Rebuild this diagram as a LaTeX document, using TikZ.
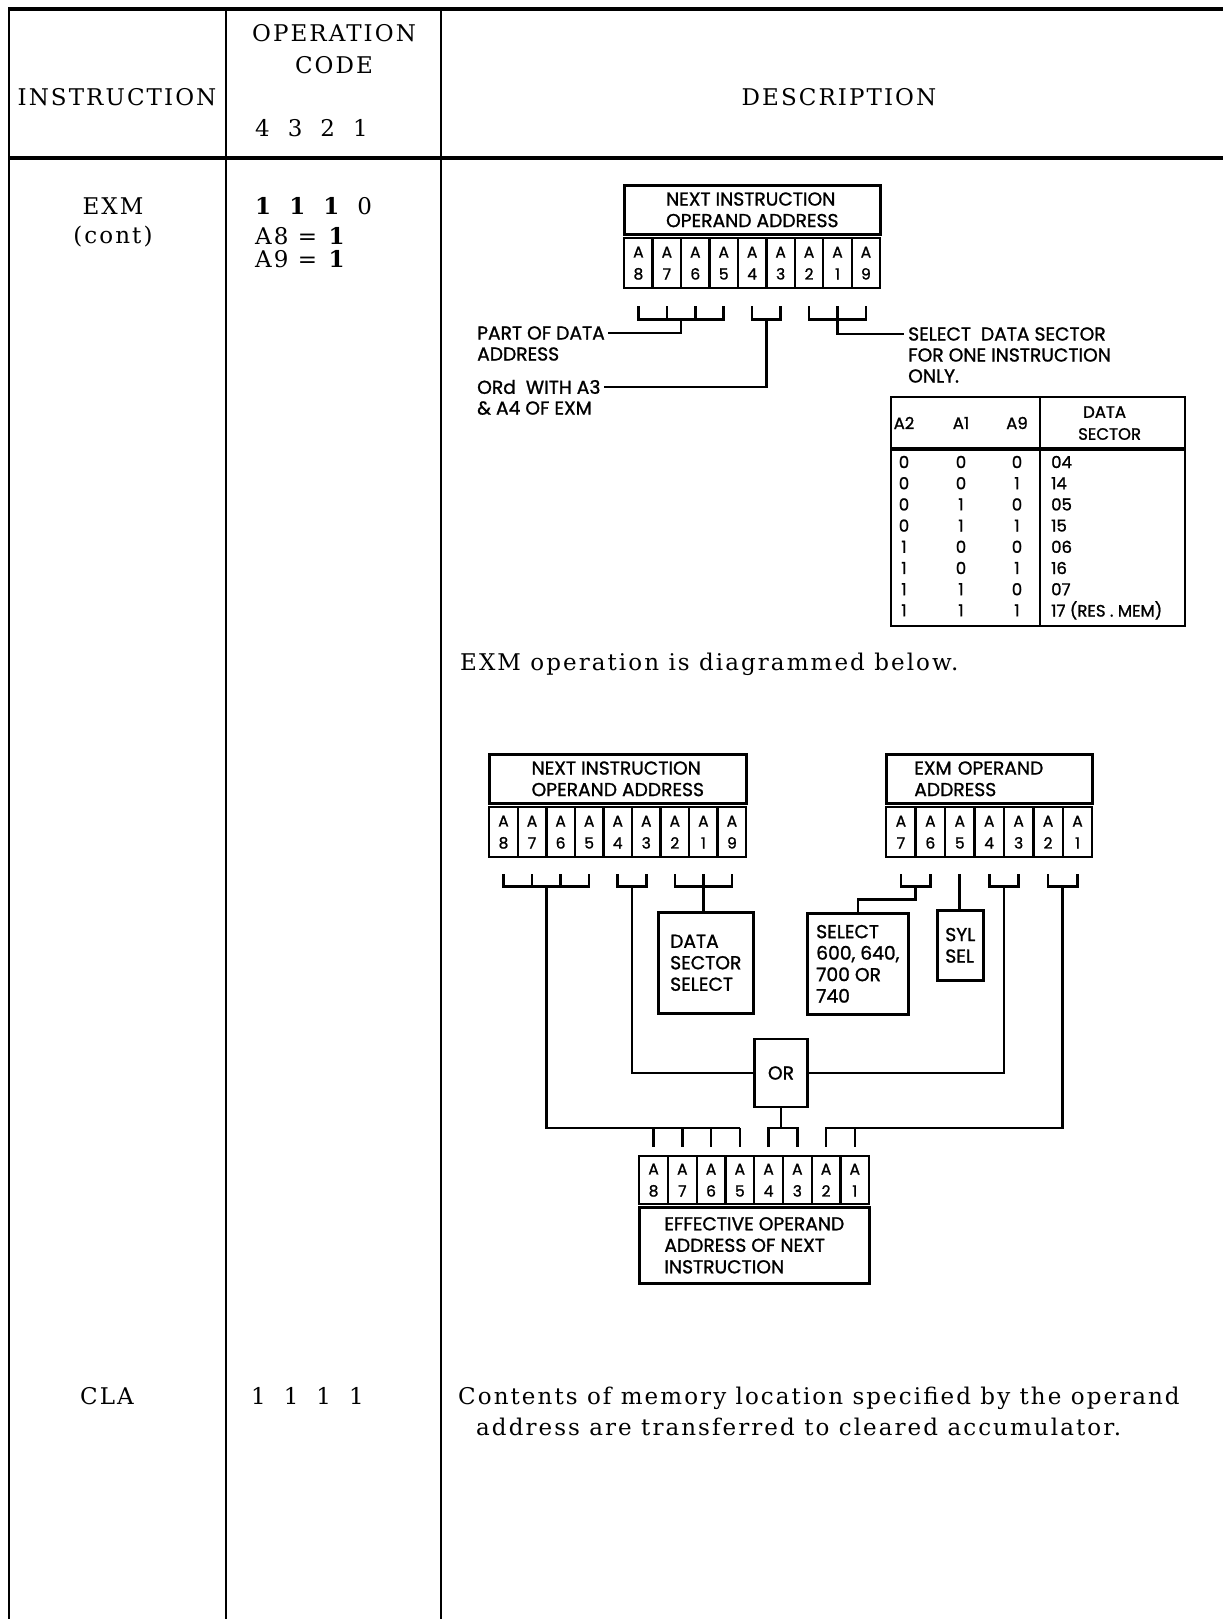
\documentclass[tikz,border=0pt]{standalone}
\usepackage{fontspec}
\setmainfont{DejaVu Serif}[LetterSpace=9]
\newfontfamily\dfont{Poppins}[UprightFeatures={FakeBold=1.2}]
\usetikzlibrary{calc}
\newcommand{\mainsz}{\fontsize{23}{30}\selectfont}
\newcommand{\hdsz}{\dfont\fontsize{18.7}{21.5}\selectfont}
\newcommand{\cellsz}{\dfont\fontsize{15.5}{22}\selectfont}
\newcommand{\tabsz}{\dfont\fontsize{16.5}{21}\selectfont}
\begin{document}
\begin{tikzpicture}[x=1pt,y=-1pt,
  tl/.style={line width=2.2pt},
  tlh/.style={line width=3.2pt},
  dl/.style={line width=2.6pt, line join=miter},
  mtext/.style={inner sep=0pt, font=\mainsz},
  dtext/.style={inner sep=0pt, font=\hdsz, anchor=west},
  regcell/.style={draw, line width=2.4pt, inner sep=0pt, minimum height=50pt, anchor=north west, align=center, font=\cellsz},
  hdbox/.style={draw, line width=2.6pt, inner sep=0pt, anchor=north west, align=left, font=\hdsz},
  gbox/.style={draw, line width=2.6pt, inner sep=0pt, anchor=north west},
  ttext/.style={inner sep=0pt, font=\tabsz},
]
\fill[white] (0,0) rectangle (1223,1619);
\useasboundingbox (0,0) rectangle (1223,1619);

% ---------- table grid ----------
\draw[tlh] (8,9) -- (1223,9);
\draw[tlh] (8,158) -- (1223,158);
\draw[tl] (9,9) -- (9,1619);
\draw[tl] (226,9) -- (226,1619);
\draw[tl] (441,9) -- (441,1619);

% ---------- header ----------
\node[mtext, anchor=base] (hinst) at (117,105) {INSTRUCTION};
\node[mtext, anchor=base] (hop1) at (334,42) {OPERATION};
\node[mtext, anchor=base] (hop2) at (334,74) {CODE};
\node[mtext, anchor=base west] (hop3) at (255,136) {4\hskip18pt 3\hskip18pt 2\hskip18pt 1};
\node[mtext, anchor=base] (hdesc) at (839,105) {DESCRIPTION};

% ---------- EXM row ----------
\node[mtext, anchor=base] (exm1) at (113,214) {EXM};
\node[mtext, anchor=base] (exm2) at (113,243) {(cont)};
\node[mtext, anchor=base west] (code1) at (255,214) {\textbf{1}\hskip16pt\textbf{1}\hskip16pt\textbf{1}\hskip16pt 0};
\node[mtext, anchor=base west] (code2) at (255,244) {A8 = \textbf{1}};
\node[mtext, anchor=base west] (code3) at (255,267) {A9 = \textbf{1}};

% ---------- CLA row ----------
\node[mtext, anchor=base] (cla) at (107,1404) {CLA};
\node[mtext, anchor=base west] (cla2) at (251,1404) {1\hskip18pt 1\hskip18pt 1\hskip18pt 1};
\node[mtext, anchor=base west] (desc1) at (458,1404) {Contents of memory location specified by the operand};
\node[mtext, anchor=base west] (desc2) at (476,1435) {address are transferred to cleared accumulator.};

\node[mtext, anchor=base west] (exmop) at (460,670) {EXM operation is diagrammed below.};

% ---------- diagram 1 ----------
\node[hdbox, minimum width=256pt, minimum height=49pt] (n1h) at (623,184) {NEXT INSTRUCTION\\OPERAND ADDRESS};
\foreach \d [count=\i from 0] in {8,7,6,5,4,3,2,1,9}{
  \node[regcell, minimum width=28.44pt] (p\d) at ({623+\i*28.44},237) {A\\\d};
  \coordinate (p\d-t) at ($(p\d.south)+(0,17)$);
  \coordinate (p\d-b) at ($(p\d.south)+(0,30)$);
}
\draw[dl] (p8-t) -- (p8-b) -- (p5-b) -- (p5-t);
\draw[dl] (p7-t) -- (p7-b) (p6-t) -- (p6-b);
\draw[dl] (p4-t) -- (p4-b) -- (p3-b) -- (p3-t);
\draw[dl] (p2-t) -- (p2-b) -- (p9-b) -- (p9-t);
\draw[dl] (p1-t) -- (p1-b);

\node[dtext] (l1a) at (477,333) {PART OF DATA};
\node[dtext] (l1b) at (477,354) {ADDRESS};
\node[dtext] (l2a) at (477,387) {ORd\ \ WITH A3};
\node[dtext] (l2b) at (477,408) {\& A4 OF EXM};
\node[dtext] (l3a) at (908,334) {SELECT\ \ DATA SECTOR};
\node[dtext] (l3b) at (908,355) {FOR ONE INSTRUCTION};
\node[dtext] (l3c) at (908,376) {ONLY.};

\coordinate (s1) at ($(p7-b)!0.5!(p6-b)$);
\draw[dl] (s1) -- (s1 |- l1a) -- ([xshift=3pt]l1a.east);
\coordinate (s2) at ($(p4-b)!0.5!(p3-b)$);
\draw[dl] (s2) -- (s2 |- l2a) -- ([xshift=3pt]l2a.east);
\draw[dl] (p1-b) -- (p1-b |- l3a) -- ([xshift=-4pt]l3a.west);

% data sector table
\node[gbox, line width=2.2pt, minimum width=294pt, minimum height=229pt] (dst) at (890,396) {};
\draw[tlh] (dst.west |- 0,449) -- (dst.east |- 0,449);
\draw[tl] (1040,396) -- (1040,625);
\node[ttext] (tA2) at (904,423) {A2};
\node[ttext] (tA1) at (961,423) {A1};
\node[ttext] (tA9) at (1017,423) {A9};
\node[ttext, anchor=west] (tds1) at (1083,412) {DATA};
\node[ttext, anchor=west] (tds2) at (1078,434) {SECTOR};
\foreach \a/\b/\c/\s [count=\k from 0] in {0/0/0/04, 0/0/1/14, 0/1/0/05, 0/1/1/15, 1/0/0/06, 1/0/1/16, 1/1/0/07, 1/1/1/{17 (RES\ .\ MEM)}}{
  \node[ttext] (ra\k) at (904,{462+\k*21.2}) {\a};
  \node[ttext] (rb\k) at (961,{462+\k*21.2}) {\b};
  \node[ttext] (rc\k) at (1017,{462+\k*21.2}) {\c};
  \node[ttext, anchor=west] (rs\k) at (1051,{462+\k*21.2}) {\s};
}

% ---------- diagram 2 ----------
\node[hdbox, minimum width=257pt, minimum height=49pt] (n2h) at (488,753) {NEXT INSTRUCTION\\OPERAND ADDRESS};
\foreach \d [count=\i from 0] in {8,7,6,5,4,3,2,1,9}{
  \node[regcell, minimum width=28.56pt] (q\d) at ({488+\i*28.56},806) {A\\\d};
  \coordinate (q\d-t) at ($(q\d.south)+(0,16)$);
  \coordinate (q\d-b) at ($(q\d.south)+(0,28)$);
}
\node[hdbox, minimum width=206pt, minimum height=49pt, text width=150pt] (xh) at (885,753) {EXM OPERAND\\ADDRESS};
\foreach \d [count=\i from 0] in {7,6,5,4,3,2,1}{
  \node[regcell, minimum width=29.43pt] (e\d) at ({885+\i*29.43},806) {A\\\d};
  \coordinate (e\d-t) at ($(e\d.south)+(0,16)$);
  \coordinate (e\d-b) at ($(e\d.south)+(0,28)$);
}
\foreach \d [count=\i from 0] in {8,7,6,5,4,3,2,1}{
  \node[regcell, minimum width=28.75pt, minimum height=48pt] (f\d) at ({638+\i*28.75},1155) {A\\\d};
  \coordinate (f\d-t) at ($(f\d.north)+(0,-27)$);
  \coordinate (f\d-b) at ($(f\d.north)+(0,-8)$);
}
\node[hdbox, minimum width=230pt, minimum height=76pt] (fh) at (638,1206) {EFFECTIVE OPERAND\\ADDRESS OF NEXT\\INSTRUCTION};

\node[gbox, minimum width=95pt, minimum height=101pt, align=left, font=\hdsz] (dss) at (657,911) {DATA\\SECTOR\\SELECT};
\node[gbox, minimum width=101pt, minimum height=101pt, align=left, font=\hdsz] (sel) at (806,912) {SELECT\\600, 640,\\700 OR\\740};
\node[gbox, minimum width=46pt, minimum height=70pt, align=left, font=\hdsz] (syl) at (936,909) {SYL\\SEL};
\node[draw, line width=2.6pt, inner sep=0pt, minimum width=53pt, minimum height=68pt, font=\hdsz] (or) at (781,1073) {OR};

% NIOA brackets
\draw[dl] (q8-t) -- (q8-b) -- (q5-b) -- (q5-t);
\draw[dl] (q7-t) -- (q7-b) (q6-t) -- (q6-b);
\draw[dl] (q4-t) -- (q4-b) -- (q3-b) -- (q3-t);
\draw[dl] (q2-t) -- (q2-b) -- (q9-b) -- (q9-t);
\draw[dl] (q1-t) -- (q1-b);
\coordinate (m1) at ($(q7-b)!0.5!(q6-b)$);
\draw[dl] (m1) -- (m1 |- f8-t) -- (f5-t);
\draw[dl] (f8-t) -- (f8-b) (f7-t) -- (f7-b) (f6-t) -- (f6-b) (f5-t) -- (f5-b);
\coordinate (m2) at ($(q4-b)!0.5!(q3-b)$);
\draw[dl] (m2) -- (m2 |- or.west) -- (or.west);
\draw[dl] (q1-b) -- (q1-b |- dss.north);

% EXM brackets
\draw[dl] (e7-t) -- (e7-b) -- (e6-b) -- (e6-t);
\coordinate (m3) at ($(e7-b)!0.5!(e6-b)$);
\draw[dl] (m3) -- ++(0,13) -| (sel.north);
\draw[dl] (e5-t) -- (e5-t |- syl.north);
\draw[dl] (e4-t) -- (e4-b) -- (e3-b) -- (e3-t);
\coordinate (m4) at ($(e4-b)!0.5!(e3-b)$);
\draw[dl] (m4) -- (m4 |- or.east) -- (or.east);
\draw[dl] (e2-t) -- (e2-b) -- (e1-b) -- (e1-t);
\coordinate (m5) at ($(e2-b)!0.5!(e1-b)$);
\draw[dl] (m5) -- (m5 |- f2-t) -- (f2-t) -- (f2-b);
\draw[dl] (f1-t) -- (f1-b);

% OR output
\coordinate (o1) at ($(f4-t)!0.5!(f3-t)$);
\draw[dl] (or.south) -- (or.south |- o1);
\draw[dl] (f4-b) -- (f4-t) -- (f3-t) -- (f3-b);
\end{tikzpicture}
\end{document}
